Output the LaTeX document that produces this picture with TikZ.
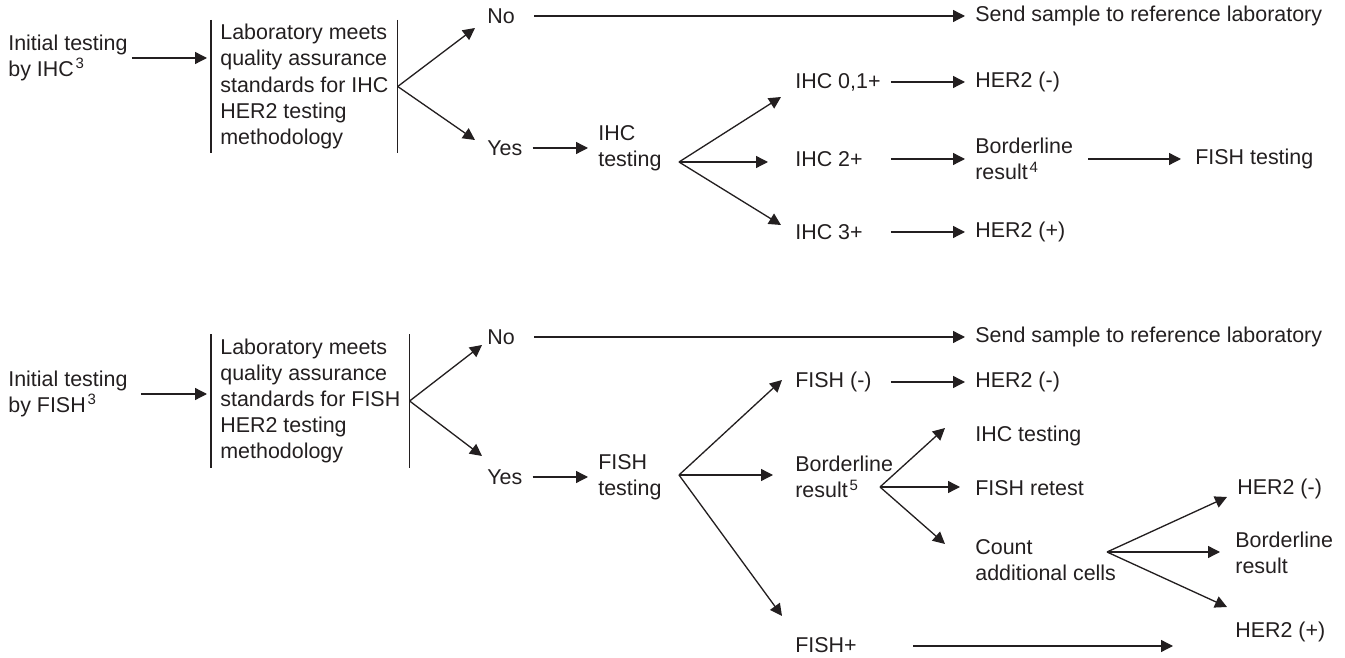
\documentclass[tikz,border=0pt]{standalone}
\usepackage{fontspec}
\setmainfont{Liberation Sans}
\usepackage{xcolor}
\definecolor{cInk}{HTML}{231F20}
\usepackage{tikz}
\usetikzlibrary{positioning,arrows.meta,calc}
\tikzset{
  node-txt/.style={anchor=west,inner sep=0pt,align=left,text=cInk,
    font=\fontsize{12.2}{14.9}\selectfont},
  node-qa/.style={node-txt,inner xsep=1.8mm,minimum height=2.65cm},
  bar/.style={draw=cInk,line width=0.8pt},
  arrow/.style={-{Triangle[length=2.4mm,width=2.4mm]},line width=0.75pt,draw=cInk},
  % small gap in front of the target text
  arrow-gap/.style={arrow,shorten >=2mm},
}

\begin{document}
\begin{tikzpicture}[x=0.2mm,y=-0.2mm]
  \useasboundingbox (0,0) rectangle (1345,658);

  % IHC first
  \node[node-txt] (init1) at (8,58) {Initial testing\\by IHC\kern1pt\textsuperscript{3}};
  \node[node-qa] (qa1) at (211,86.5)
    {Laboratory meets\\quality assurance\\standards for IHC\\HER2 testing\\methodology};
  \node[node-txt] (no1) at (487,16) {No};
  \node[node-txt] (send1) at (975,16) {Send sample to reference laboratory};
  \node[node-txt] (yes1) at (487,148) {Yes};
  \node[node-txt] (ihct) at (598,148) {IHC\\testing};
  \node[node-txt] (ihc01) at (795,82) {IHC 0,1+};
  \node[node-txt] (ihc2) at (795,159) {IHC 2+};
  \node[node-txt] (ihc3) at (795,232) {IHC 3+};
  \node[node-txt] (neg1) at (975,82) {HER2 (-)};
  \node[node-txt] (bord1) at (975,159) {Borderline\\result\kern1pt\textsuperscript{4}};
  \node[node-txt] (fish1) at (1195,159) {FISH testing};
  \node[node-txt] (pos1) at (975,232) {HER2 (+)};
  \coordinate (b1) at (679,162);

  \draw[bar] (qa1.north west) -- (qa1.south west);
  \draw[bar] (qa1.north east) -- (qa1.south east);
  \draw[arrow,shorten >=0.8mm] ($(init1.east)+(4,0)$) -- (init1.east -| qa1.west);
  \draw[arrow] (qa1.east) -- ($(no1.west)+(-12,12)$);
  \draw[arrow] (qa1.east) -- ($(yes1.west)+(-12,-8)$);
  \draw[arrow-gap] ($(no1.east)+(19,0)$) -- (send1.west);
  \draw[arrow-gap] ($(yes1.east)+(10,0)$) -- (ihct.west);
  \draw[arrow] (b1) -- ($(ihc01.west)+(-14,15)$);
  \draw[arrow] (b1) -- ($(b1 -| ihc2.west)+(-27,0)$);
  \draw[arrow] (b1) -- ($(ihc3.west)+(-14,-7)$);
  \draw[arrow-gap] ($(ihc01.east)+(10,0)$) -- (neg1.west);
  \draw[arrow-gap] ($(ihc2.east -| ihc01.east)+(10,0)$) -- (bord1.west);
  \draw[arrow-gap] ($(ihc3.east -| ihc01.east)+(10,0)$) -- (pos1.west);
  \draw[arrow,shorten >=2.8mm] ($(bord1.east)+(15,0)$) -- (fish1.west);

  % FISH first
  \node[node-txt] (init2) at (8,394) {Initial testing\\by FISH\kern1pt\textsuperscript{3}};
  \node[node-qa] (qa2) at (211,401)
    {Laboratory meets\\quality assurance\\standards for FISH\\HER2 testing\\methodology};
  \node[node-txt] (no2) at (487,337) {No};
  \node[node-txt] (send2) at (975,337) {Send sample to reference laboratory};
  \node[node-txt] (yes2) at (487,477) {Yes};
  \node[node-txt] (fish2) at (598,477) {FISH\\testing};
  \node[node-txt] (fneg) at (795,382) {FISH (-)};
  \node[node-txt] (fbord) at (795,477) {Borderline\\result\kern1pt\textsuperscript{5}};
  \node[node-txt] (fpos) at (795,645) {FISH+};
  \node[node-txt] (neg2) at (975,382) {HER2 (-)};
  \node[node-txt] (ihcre) at (975,436) {IHC testing};
  \node[node-txt] (fre) at (975,488) {FISH retest};
  \node[node-txt] (count) at (975,560) {Count\\additional cells};
  \node[node-txt] (neg3) at (1237,489) {HER2 (-)};
  \node[node-txt] (bord3) at (1235,553) {Borderline\\result};
  \node[node-txt] (pos3) at (1235,632) {HER2 (+)};
  \coordinate (b2) at (679,475);
  \coordinate (b3) at (880,487);
  \coordinate (b4) at (1107,552);

  \draw[bar] (qa2.north west) -- (qa2.south west);
  \draw[bar] (qa2.north east) -- (qa2.south east);
  \draw[arrow,shorten >=0.8mm] ($(init2.east)+(13,0)$) -- (init2.east -| qa2.west);
  \draw[arrow] (qa2.east) -- ($(no2.west)+(-5,8)$);
  \draw[arrow] (qa2.east) -- ($(yes2.west)+(-5,-21)$);
  \draw[arrow-gap] ($(no2.east)+(19,0)$) -- (send2.west);
  \draw[arrow-gap] ($(yes2.east)+(10,0)$) -- (fish2.west);
  \draw[arrow] (b2) -- ($(fneg.west)+(-13,-2)$);
  \draw[arrow] (b2) -- ($(b2 -| fbord.west)+(-22,0)$);
  \draw[arrow] (b2) -- ($(fpos.west)+(-13,-29)$);
  \draw[arrow-gap] ($(fneg.east)+(19,0)$) -- (neg2.west);
  \draw[arrow] (b3) -- ($(ihcre.west)+(-30,-8)$);
  \draw[arrow] (b3) -- ($(b3 -| fre.west)+(-15,0)$);
  \draw[arrow] (b3) -- ($(count.west)+(-30,-16)$);
  \draw[arrow] (b4) -- ($(neg3.west)+(-10,8)$);
  \draw[arrow] (b4) -- ($(b4 -| bord3.west)+(-15,0)$);
  \draw[arrow] (b4) -- ($(pos3.west)+(-8,-25)$);
  \draw[arrow] ($(fpos.east)+(56,1)$) -- ($(fpos.east -| pos3.west)+(-62,1)$);
\end{tikzpicture}
\end{document}
